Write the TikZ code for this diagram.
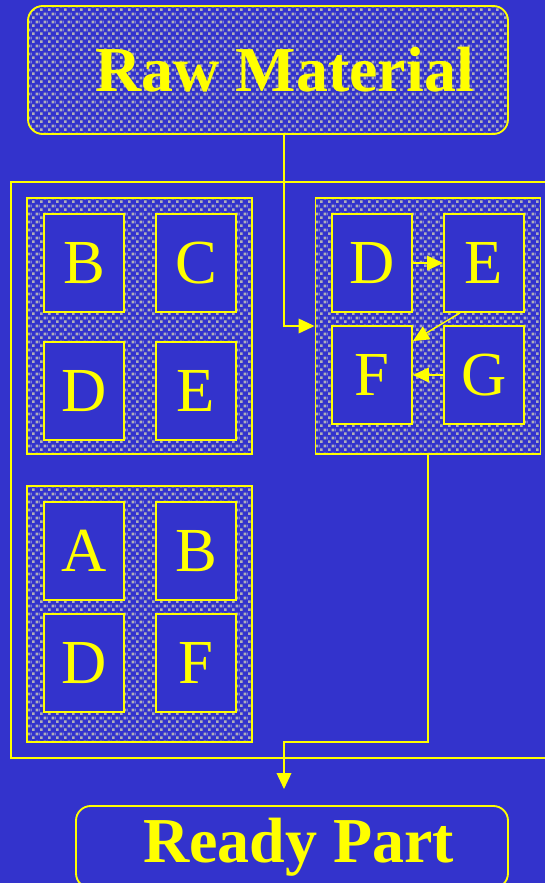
\documentclass[tikz,border=0pt]{standalone}
\usepackage{fontspec}
\setmainfont{Liberation Serif}
\usepackage{xcolor}
\usepackage{tikz}
\usetikzlibrary{arrows.meta, positioning, calc, patterns.meta}
\definecolor{bgblue}{RGB}{51,51,204}
\definecolor{chipgray}{RGB}{176,176,184}
\definecolor{lineyellow}{RGB}{255,255,0}
\pgfdeclarepattern{
  name=chipgrid, type=colored,
  bottom left={\pgfpoint{0pt}{0pt}},
  top right={\pgfpoint{6pt}{6pt}},
  tile size={\pgfpoint{6pt}{6pt}},
  code={
    \pgfsetfillcolor{chipgray}
    \pgfpathrectangle{\pgfpoint{0pt}{0pt}}{\pgfpoint{2.3pt}{2.3pt}}
    \pgfpathrectangle{\pgfpoint{3pt}{3pt}}{\pgfpoint{2.3pt}{2.3pt}}
    \pgfusepath{fill}
  }
}
\tikzset{
  stagebox/.style={
    draw=lineyellow, line width=1.4pt, rounded corners=11pt,
    text=lineyellow, font=\fontsize{48pt}{54pt}\selectfont\bfseries,
    align=center
  },
  groupbox/.style={
    draw=lineyellow, line width=1.4pt, pattern=chipgrid,
    minimum width=168.75pt, minimum height=192pt, inner sep=0pt
  },
  cellbox/.style={
    draw=lineyellow, line width=1.4pt, fill=bgblue,
    minimum width=60pt, minimum height=73.5pt, inner sep=0pt,
    text=lineyellow, font=\fontsize{47pt}{50pt}\selectfont
  },
  framebox/.style={draw=lineyellow, line width=1.2pt},
  flowarrow/.style={
    -{Triangle[length=12pt, width=11pt]}, draw=lineyellow,
    line width=1.1pt
  },
}
\begin{document}
\begin{tikzpicture}[x=0.75pt, y=-0.75pt]
  % Background
  \fill[bgblue] (0,0) rectangle (545,883);
  \useasboundingbox (0,0) rectangle (545,883);
  \clip (0,0) rectangle (545,883);

  % ---- Start and end ----
  \node[stagebox, pattern=chipgrid, minimum width=360pt, minimum height=96pt]
    (raw) at (268,70) {\hspace*{25pt}Raw Material};
  \node[stagebox, minimum width=324pt, minimum height=61.5pt]
    (ready) at (292,847) {\hspace*{10pt}Ready Part};

  % Cell frame (right side runs off the page)
  \draw[framebox] (11,182) rectangle (560,758);

  % ---- Left groups ----
  \node[groupbox] (topgrp) at (139.5,326) {};
  \node[cellbox] (topB) at (84,263) {B};
  \node[cellbox] (topC) at (196,263) {C};
  \node[cellbox] (topD) at (84,391) {D};
  \node[cellbox] (topE) at (196,391) {E};

  \node[groupbox] (lowgrp) at (139.5,614) {};
  \node[cellbox] (lowA) at (84,551) {A};
  \node[cellbox] (lowB) at (196,551) {B};
  \node[cellbox] (lowD) at (84,663) {D};
  \node[cellbox] (lowF) at (196,663) {F};

  % ---- Flow group ----
  \node[groupbox] (flowgrp) at (428,326) {};
  \node[cellbox] (flowD) at (372,263) {D};
  \node[cellbox] (flowE) at (484,263) {E};
  \node[cellbox] (flowF) at (372,375) {F};
  \node[cellbox] (flowG) at (484,375) {G};

  \draw[flowarrow] (flowD) -- (flowE);
  \draw[flowarrow] ([xshift=-18pt]flowE.south) -- ([yshift=-12pt]flowF.north east);
  \draw[flowarrow] (flowG) -- (flowF);

  % ---- Material flow ----
  \coordinate (bend) at (284,742);
  \coordinate (drop) at (284,789);
  \draw[flowarrow] ([xshift=12pt]raw.south) |- (flowgrp.west);
  \draw[flowarrow] (flowgrp.south) |- (bend) -- (drop);
\end{tikzpicture}
\end{document}
